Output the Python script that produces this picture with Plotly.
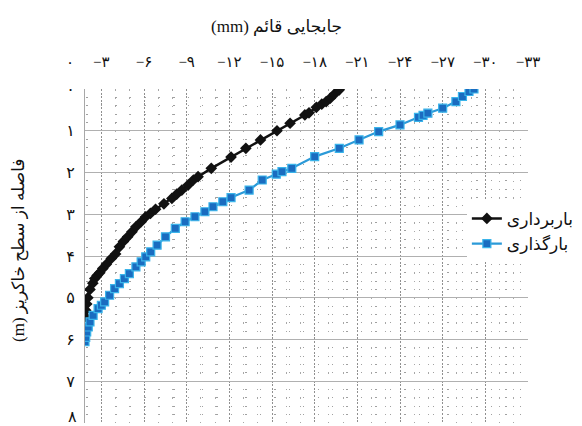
import plotly.graph_objects as go

# Vertical displacement (mm) vs. depth below embankment surface (m)
unload_x = [-1.85, -1.9, -1.97, -2.05, -2.2, -2.4, -2.54, -2.7, -2.89, -3.1, -3.35, -3.7,
            -4.0, -4.27, -4.55, -4.85, -5.15, -5.43, -5.8, -6.12, -6.45, -6.81, -7.4,
            -7.96, -8.3, -8.66, -9.1, -9.47, -9.8, -10.73, -12.12, -13.16, -14.19,
            -15.35, -16.27, -17.31, -17.6, -18.12, -18.5, -18.81, -19.1, -19.4, -19.73]
unload_y = [5.45, 5.3, 5.15, 5.0, 4.8, 4.65, 4.54, 4.47, 4.40, 4.3, 4.2, 4.06,
            3.95, 3.78, 3.65, 3.54, 3.42, 3.3, 3.18, 3.06, 2.98, 2.88, 2.75,
            2.62, 2.52, 2.42, 2.3, 2.18, 2.1, 1.9, 1.63, 1.42, 1.22,
            1.0, 0.82, 0.62, 0.57, 0.44, 0.36, 0.3, 0.22, 0.12, 0.02]

load_x = [-1.85, -1.9, -1.97, -2.08, -2.2, -2.42, -2.77, -3.0, -3.23, -3.58, -3.93, -4.27,
          -4.62, -4.97, -5.43, -5.8, -6.12, -6.47, -6.92, -7.51, -8.2, -8.89, -9.58,
          -10.28, -10.85, -11.54, -12.12, -13.39, -14.31, -15.3, -15.7, -16.39, -18.0,
          -19.73, -21.12, -22.5, -24.0, -25.3, -25.62, -25.96, -27.0, -27.93, -28.39,
          -28.85, -29.2]
load_y = [6.05, 5.95, 5.82, 5.7, 5.58, 5.42, 5.26, 5.18, 5.1, 4.94, 4.78, 4.66,
          4.54, 4.42, 4.26, 4.14, 4.02, 3.9, 3.74, 3.54, 3.34, 3.18, 3.06,
          2.94, 2.82, 2.7, 2.6, 2.42, 2.18, 2.04, 1.98, 1.9, 1.62,
          1.42, 1.22, 1.02, 0.86, 0.68, 0.63, 0.58, 0.46, 0.3, 0.18,
          0.06, 0.0]

names = ["باربرداری", "بارگذاری"]

fa_digits = "۰۱۲۳۴۵۶۷۸۹"


def fa(n):
    return "".join(fa_digits[int(c)] for c in str(n))


x_ticks = list(range(-3, -34, -3))
x_text = ["−" + fa(-v) for v in x_ticks]
y_ticks = list(range(0, 8))
y_text = [fa(v) for v in y_ticks]
y_last = 8

x_minor = [v for v in range(-3, -34, -1) if v % 3 != 0]
y_minor = [round(i * 0.2, 1) for i in range(1, 40) if i % 5 != 0]

FONT = "Liberation Serif, DejaVu Sans, serif"

fig = go.Figure()
fig.add_trace(go.Scatter(
    x=unload_x, y=unload_y, name=names[0], mode="lines+markers",
    line=dict(color="#111111", width=2.5),
    marker=dict(symbol="diamond", size=9, color="#111111"),
))
fig.add_trace(go.Scatter(
    x=load_x, y=load_y, name=names[1], mode="lines+markers",
    line=dict(color="#2b9ad8", width=2.2),
    marker=dict(symbol="square", size=8, color="#1a6cc0",
                line=dict(color="#3ab4ea", width=1.2)),
))

fig.update_layout(
    width=582, height=426,
    margin=dict(l=85, r=47, t=89, b=3),
    paper_bgcolor="white", plot_bgcolor="white",
    font=dict(family=FONT, size=16, color="#111111"),
    showlegend=True,
    legend=dict(x=0.862, y=0.665, xanchor="left", yanchor="top",
                bgcolor="white", borderwidth=0, itemwidth=30,
                font=dict(family=FONT, size=17)),
    xaxis=dict(
        side="top", range=[-1.85, -33], tickmode="array", automargin=False,
        tickvals=x_ticks, ticktext=x_text, ticks="", ticklabelstandoff=18,
        tickfont=dict(size=15),
        showgrid=True, gridcolor="#8f8f8f", gridwidth=1, griddash="2px,1.6px",
        zeroline=False, showline=False,
        minor=dict(tickmode="array", tickvals=x_minor, showgrid=True,
                   gridcolor="#a8a8a8", gridwidth=1, griddash="1.5px,6.83px"),
    ),
    yaxis=dict(
        range=[8, 0], tickmode="array", tickvals=y_ticks, ticktext=y_text,
        automargin=False, ticks="", ticklabelstandoff=6,
        showgrid=True, gridcolor="#b0b0b0", gridwidth=1,
        zeroline=False, showline=True, linecolor="#a8a8a8", linewidth=1,
        minor=dict(tickmode="array", tickvals=y_minor, showgrid=True,
                   gridcolor="#a0a0a0", gridwidth=1,
                   griddash="0px,1.47px,1.4px,11.57px"),
    ),
    annotations=[
        dict(text="\u202bجابجایی قائم (mm)\u202c", xref="paper", yref="paper",
             x=0.433, y=1.186, xanchor="center", yanchor="middle",
             showarrow=False, font=dict(family=FONT, size=17)),
        dict(text="\u202bفاصله از سطح خاکریز (m)\u202c", xref="paper", yref="paper",
             x=-0.149, y=0.518, xanchor="center", yanchor="middle",
             textangle=-90, showarrow=False, font=dict(family=FONT, size=17)),
        dict(text=fa(0), xref="paper", yref="paper", x=-0.033, y=1.081,
             xanchor="center", yanchor="middle",
             showarrow=False, font=dict(family=FONT, size=15)),
        # bottom depth label, lifted so it stays inside the page
        dict(text=fa(y_last), xref="paper", yref="paper", x=-0.029, y=0,
             xanchor="center", yanchor="bottom", yshift=-4,
             showarrow=False, font=dict(family=FONT, size=16)),
    ],
)

fig.write_html("out.html")
